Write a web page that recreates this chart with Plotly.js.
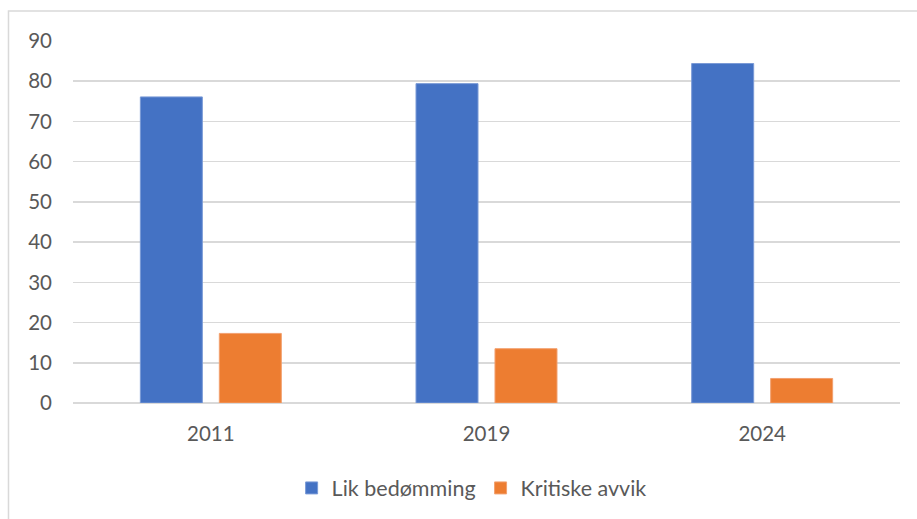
<!DOCTYPE html>
<html>
<head>
<meta charset="utf-8">
<script src="https://cdn.plot.ly/plotly-3.0.1.min.js"></script>
<style>
  html, body { margin: 0; padding: 0; background: #fff; }
  #chart { width: 917px; height: 519px; }
</style>
</head>
<body>
<div id="chart"></div>
<script>
const years = ["2011", "2019", "2024"];
const likBedomming = [76.1, 79.4, 84.4];
const kritiskeAvvik = [17.3, 13.5, 6.1];
const seriesNames = ["Lik bedømming", "Kritiske avvik"];
const yTicks = [0, 10, 20, 30, 40, 50, 60, 70, 80, 90];

const FONT = "Lato, 'Open Sans', sans-serif";
const TXT = "#595959";

const traces = [
  { type: "bar", name: seriesNames[0], x: years, y: likBedomming,
    marker: { color: "#4472C4", line: { color: "#7a9ad6", width: 1 } }, hoverinfo: "x+y" },
  { type: "bar", name: seriesNames[1], x: years, y: kritiskeAvvik,
    marker: { color: "#ED7D31", line: { color: "#f2a06f", width: 1 } }, hoverinfo: "x+y" }
];

const layout = {
  width: 917, height: 519,
  margin: { l: 73, r: 17, t: 41, b: 116, autoexpand: false },
  paper_bgcolor: "#ffffff", plot_bgcolor: "#ffffff",
  font: { family: FONT, size: 20.5, color: TXT },
  barmode: "group",
  bargap: 0.427,
  bargroupgap: 0.215,
  showlegend: true,
  legend: {
    orientation: "h", x: 0.482, xanchor: "center", y: -0.178, yanchor: "top",
    font: { family: FONT, size: 21.5, color: TXT },
    itemwidth: 30, traceorder: "normal"
  },
  xaxis: {
    type: "category",
    showgrid: false, zeroline: false, showline: false,
    ticks: "", ticklabelstandoff: 16,
    tickfont: { family: FONT, size: 20.5, color: TXT }
  },
  yaxis: {
    range: [0, 90], tickvals: yTicks, ticktext: yTicks.map(String),
    showgrid: true, gridcolor: "#d9d9d9", gridwidth: 1.5,
    zeroline: true, zerolinecolor: "#d9d9d9", zerolinewidth: 1.5,
    showline: false, ticks: "", ticklabelstandoff: 20,
    tickfont: { family: FONT, size: 20.5, color: TXT }
  },
  shapes: [
    { type: "rect", xref: "paper", yref: "paper",
      x0: -0.0780, x1: 1.05, y0: -0.40, y1: 1.0829,
      line: { color: "#d9d9d9", width: 1.5 }, fillcolor: "rgba(0,0,0,0)", layer: "below" }
  ]
};

Plotly.newPlot("chart", traces, layout, { displayModeBar: false, staticPlot: true });
</script>
</body>
</html>
